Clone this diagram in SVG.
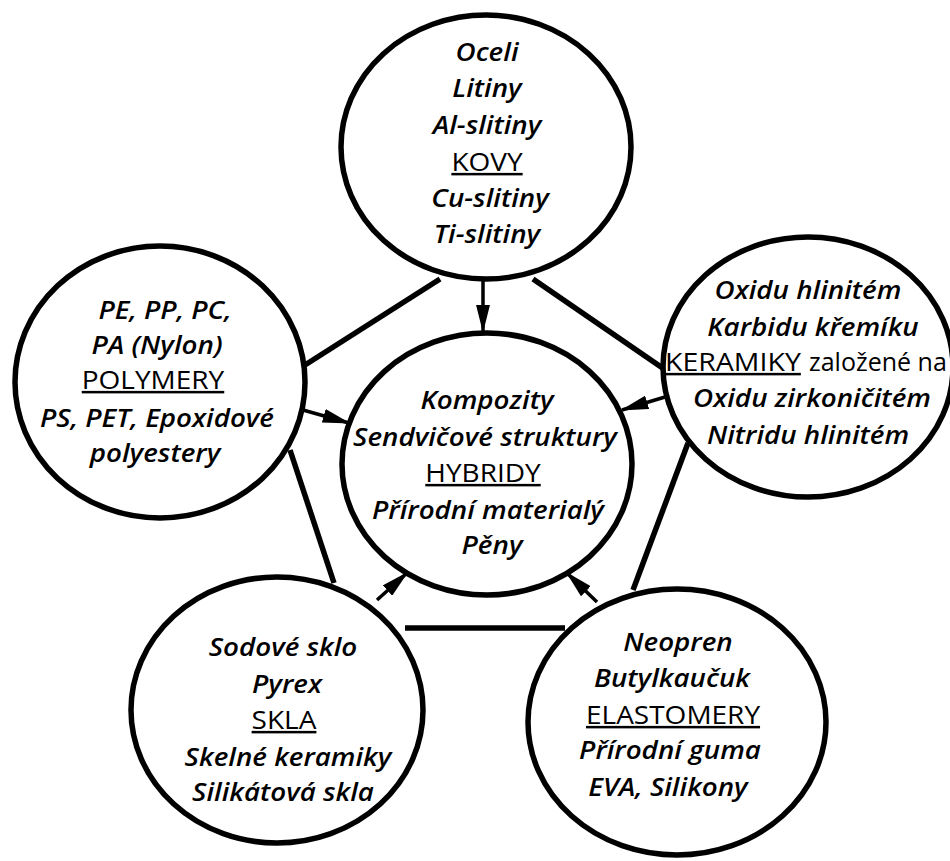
<svg xmlns="http://www.w3.org/2000/svg" width="950" height="861" viewBox="0 0 950 861">
<style>
.node ellipse{fill:#fff;stroke:#000;stroke-width:5.5}
text{font-family:"Open Sans","Noto Sans","DejaVu Sans",sans-serif;font-size:25px;fill:#000;text-anchor:middle}
.i{font-style:italic;font-weight:600}
.h{text-decoration:underline}
.s{text-anchor:start}
.edge{stroke:#000;stroke-width:5.5;fill:none;stroke-linecap:butt}
.arr{stroke:#000;stroke-width:3.5;fill:none;marker-end:url(#ah)}
</style>
<defs>
<marker id="ah" markerWidth="8" markerHeight="4" refX="7.5" refY="2" orient="auto" markerUnits="strokeWidth">
<path d="M0,0 L8,2 L0,4 Z" fill="#000"/>
</marker>
</defs>
<rect width="950" height="861" fill="#fff"/>
<g id="kovy" class="node">
<ellipse cx="486" cy="147" rx="145" ry="132"/>
<text class="i" transform="translate(487 61) scale(1.11 1)">Oceli</text>
<text class="i" transform="translate(487 97) scale(1.11 1)">Litiny</text>
<text class="i" transform="translate(487 134) scale(1.11 1)">Al-slitiny</text>
<text class="h" transform="translate(487 171) scale(1.12 1)">KOVY</text>
<text class="i" transform="translate(490 207) scale(1.11 1)">Cu-slitiny</text>
<text class="i" transform="translate(487 243) scale(1.11 1)">Ti-slitiny</text>
</g>
<g id="polymery" class="node">
<ellipse cx="160" cy="382" rx="145" ry="136"/>
<text class="i" transform="translate(165 319) scale(1.11 1)">PE, PP, PC,</text>
<text class="i" transform="translate(157 354) scale(1.11 1)">PA (Nylon)</text>
<text class="h" transform="translate(153 389) scale(1.12 1)">POLYMERY</text>
<text class="i" transform="translate(157 427) scale(1.11 1)">PS, PET, Epoxidové</text>
<text class="i" transform="translate(155 462) scale(1.11 1)">polyestery</text>
</g>
<g id="keramiky" class="node">
<ellipse cx="808" cy="367" rx="145" ry="130"/>
<text class="i" transform="translate(808 299) scale(1.11 1)">Oxidu hlinitém</text>
<text class="i" transform="translate(813 336) scale(1.11 1)">Karbidu křemíku</text>
<text class="h s" transform="translate(665 371) scale(1.14 1)">KERAMIKY</text>
<text class="s" x="809" y="371">založené na</text>
<text class="i" transform="translate(812 407) scale(1.11 1)">Oxidu zirkoničitém</text>
<text class="i" transform="translate(808 444) scale(1.11 1)">Nitridu hlinitém</text>
</g>
<g id="hybridy" class="node">
<ellipse cx="487" cy="464" rx="145" ry="131"/>
<text class="i" transform="translate(487 409) scale(1.11 1)">Kompozity</text>
<text class="i" transform="translate(485 446) scale(1.11 1)">Sendvičové struktury</text>
<text class="h" transform="translate(483 482) scale(1.12 1)">HYBRIDY</text>
<text class="i" transform="translate(488 519) scale(1.11 1)">Přírodní materialý</text>
<text class="i" transform="translate(492 554) scale(1.11 1)">Pěny</text>
</g>
<g id="skla" class="node">
<ellipse cx="277" cy="710" rx="146" ry="133"/>
<text class="i" transform="translate(283 656) scale(1.11 1)">Sodové sklo</text>
<text class="i" transform="translate(287 693) scale(1.11 1)">Pyrex</text>
<text class="h" transform="translate(284 729) scale(1.12 1)">SKLA</text>
<text class="i" transform="translate(288 766) scale(1.11 1)">Skelné keramiky</text>
<text class="i" transform="translate(283 801) scale(1.11 1)">Silikátová skla</text>
</g>
<g id="elastomery" class="node">
<ellipse cx="677" cy="722" rx="149" ry="133"/>
<text class="i" transform="translate(678 651) scale(1.11 1)">Neopren</text>
<text class="i" transform="translate(672 687) scale(1.11 1)">Butylkaučuk</text>
<text class="h" transform="translate(673 724) scale(1.12 1)">ELASTOMERY</text>
<text class="i" transform="translate(670 759) scale(1.11 1)">Přírodní guma</text>
<text class="i" transform="translate(668 796) scale(1.11 1)">EVA, Silikony</text>
</g>
<g id="connectors">
<line class="edge" x1="440" y1="279" x2="305" y2="365"/>
<line class="edge" x1="533" y1="279" x2="664" y2="369"/>
<line class="edge" x1="290" y1="450" x2="334" y2="583"/>
<line class="edge" x1="688" y1="443" x2="633" y2="590"/>
<line class="edge" x1="405" y1="628" x2="565" y2="628"/>
<line class="arr" x1="483" y1="280" x2="483" y2="331"/>
<line class="arr" x1="303" y1="410" x2="349" y2="423"/>
<line class="arr" x1="665" y1="397" x2="622" y2="410"/>
<line class="arr" x1="377" y1="600" x2="407" y2="573"/>
<line class="arr" x1="597" y1="602" x2="567" y2="573"/>
</g>
</svg>
